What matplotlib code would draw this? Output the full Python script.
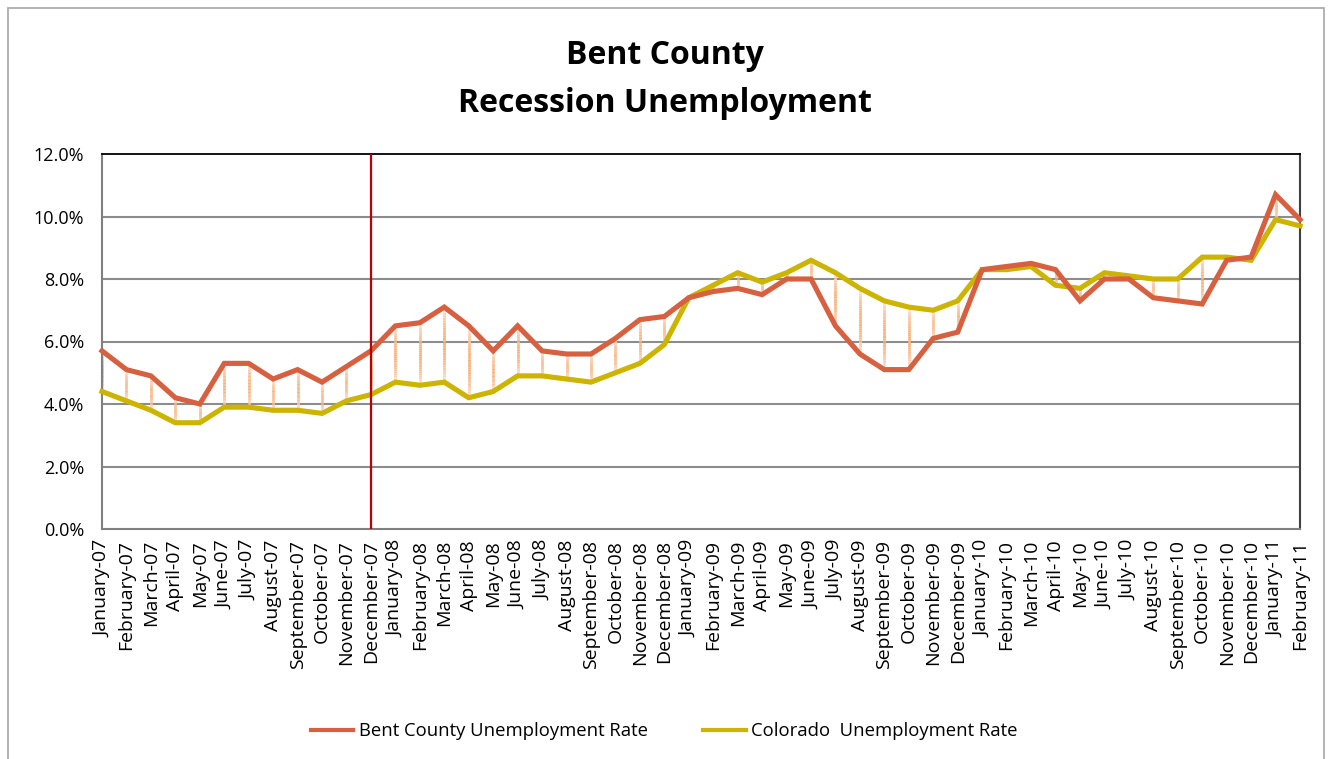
import matplotlib
matplotlib.use("Agg")
import matplotlib.pyplot as plt
import numpy as np
from matplotlib.collections import LineCollection
from matplotlib.patches import Rectangle
from matplotlib.lines import Line2D

months = ["January-07", "February-07", "March-07", "April-07", "May-07", "June-07",
          "July-07", "August-07", "September-07", "October-07", "November-07", "December-07",
          "January-08", "February-08", "March-08", "April-08", "May-08", "June-08",
          "July-08", "August-08", "September-08", "October-08", "November-08", "December-08",
          "January-09", "February-09", "March-09", "April-09", "May-09", "June-09",
          "July-09", "August-09", "September-09", "October-09", "November-09", "December-09",
          "January-10", "February-10", "March-10", "April-10", "May-10", "June-10",
          "July-10", "August-10", "September-10", "October-10", "November-10", "December-10",
          "January-11", "February-11"]

bent = [5.7, 5.1, 4.9, 4.2, 4.0, 5.3, 5.3, 4.8, 5.1, 4.7, 5.2, 5.7,
        6.5, 6.6, 7.1, 6.5, 5.7, 6.5, 5.7, 5.6, 5.6, 6.1, 6.7, 6.8,
        7.4, 7.6, 7.7, 7.5, 8.0, 8.0, 6.5, 5.6, 5.1, 5.1, 6.1, 6.3,
        8.3, 8.4, 8.5, 8.3, 7.3, 8.0, 8.0, 7.4, 7.3, 7.2, 8.6, 8.7,
        10.7, 9.9]

colorado = [4.4, 4.1, 3.8, 3.4, 3.4, 3.9, 3.9, 3.8, 3.8, 3.7, 4.1, 4.3,
            4.7, 4.6, 4.7, 4.2, 4.4, 4.9, 4.9, 4.8, 4.7, 5.0, 5.3, 5.9,
            7.4, 7.8, 8.2, 7.9, 8.2, 8.6, 8.2, 7.7, 7.3, 7.1, 7.0, 7.3,
            8.3, 8.3, 8.4, 7.8, 7.7, 8.2, 8.1, 8.0, 8.0, 8.7, 8.7, 8.6,
            9.9, 9.7]

recession_start = "December-07"
yticks = [0, 2, 4, 6, 8, 10, 12]

series_names = ["Bent County Unemployment Rate", "Colorado  Unemployment Rate"]
RED = "#D6603F"
YEL = "#CCB400"
FONT = "Open Sans"

W, H = 1329, 759
fig = plt.figure(figsize=(W / 100, H / 100), dpi=100)
fig.patch.set_facecolor("white")

# outer chart border
fig.add_artist(Rectangle((8 / W, -0.01), (1324 - 8) / W, 1.01 - 8 / H,
                         transform=fig.transFigure, fill=False,
                         edgecolor="#A6A6A6", linewidth=1.2))

ax = fig.add_axes([102 / W, 1 - 529 / H, (1300 - 102) / W, (529 - 154) / H])
x = np.arange(len(months))

ax.set_xlim(0, len(months) - 1)
ax.set_ylim(0, 12)

for yv in yticks[1:-1]:
    ax.axhline(yv, color="#8C8C8C", lw=1.5, zorder=1)

# gradient high-low lines
light = np.array([253, 236, 228]) / 255
orange = np.array([248, 176, 120]) / 255
nseg = 30
segs, cols = [], []
for xi, a, b in zip(x, bent, colorado):
    lo, hi = min(a, b), max(a, b)
    ys = np.linspace(hi, lo, nseg + 1)
    for k in range(nseg):
        t = (k + 0.5) / nseg
        w = np.sin(np.pi * t) ** 0.7
        segs.append([(xi, ys[k]), (xi, ys[k + 1])])
        cols.append(tuple(light * (1 - w) + orange * w))
lc = LineCollection(segs, colors=cols, linewidths=2.0, zorder=2, capstyle="butt")
ax.add_collection(lc)

ax.plot(x, bent, color=RED, lw=3.7, zorder=4, solid_joinstyle="miter", clip_on=False)
ax.plot(x, colorado, color=YEL, lw=3.7, zorder=3, solid_joinstyle="miter", clip_on=False)

rx = months.index(recession_start)
ax.axvline(rx, color="#C00000", lw=1.6, zorder=5)

ax.set_yticks(yticks)
ax.set_yticklabels([f"{v:.1f}%" for v in yticks], fontsize=13, family=FONT)
ax.set_xticks(x)
ax.set_xticklabels(months, rotation=90, fontsize=14, family=FONT)
ax.tick_params(axis="both", length=0)
ax.tick_params(axis="y", pad=13)
ax.tick_params(axis="x", pad=8)

for s in ["left", "bottom"]:
    ax.spines[s].set_color("#808080")
    ax.spines[s].set_linewidth(1.5)
ax.spines["top"].set_color("#000000")
ax.spines["top"].set_linewidth(1.3)
ax.spines["right"].set_color("#404040")
ax.spines["right"].set_linewidth(1.5)

fig.text(0.5, 1 - 55 / H, "Bent County", ha="center", va="center",
         fontsize=23, fontweight="bold", family=FONT)
fig.text(0.5, 1 - 103 / H, "Recession Unemployment", ha="center", va="center",
         fontsize=23, fontweight="bold", family=FONT)

handles = [Line2D([], [], color=RED, lw=3), Line2D([], [], color=YEL, lw=3)]
fig.legend(handles, series_names, loc="center", bbox_to_anchor=(0.5, 1 - 731 / H),
           ncol=2, frameon=False, prop={"family": FONT, "size": 13.3},
           handlelength=2.3, handletextpad=0.3, columnspacing=3.0)

fig.savefig("out.png", dpi=100)
